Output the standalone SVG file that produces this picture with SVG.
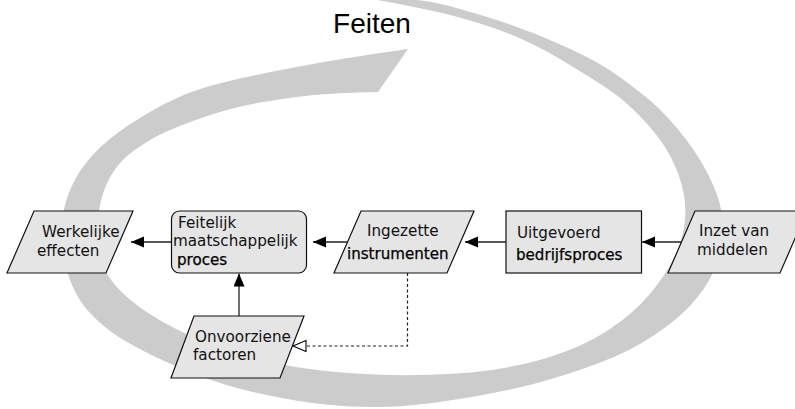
<svg xmlns="http://www.w3.org/2000/svg" width="795" height="409" viewBox="0 0 795 409">
  <style>
    .node { fill: #e5e5e5; stroke: #111; stroke-width: 1.2; }
    .lbl { font-family: "DejaVu Sans", "Liberation Sans", sans-serif; font-size: 15.2px; fill: #111; }
    .em { font-family: "DejaVu Sans", "Liberation Sans", sans-serif; font-size: 15.1px; fill: #000; stroke: #000; stroke-width: 0.25; }
    .edge { fill: none; stroke: #222; stroke-width: 1.3; }
    .dash { fill: none; stroke: #222; stroke-width: 1.2; stroke-dasharray: 3 2.5; }
  </style>
  <defs>
    <marker id="solid" markerUnits="userSpaceOnUse" markerWidth="14" markerHeight="12" refX="13" refY="5.5" orient="auto">
      <path d="M0,0 L13,5.5 L0,11 Z" fill="#000"/>
    </marker>
    <marker id="open" markerUnits="userSpaceOnUse" markerWidth="16" markerHeight="14" refX="14" refY="6.5" orient="auto">
      <path d="M1,1 L14,6.5 L1,12 Z" fill="#fff" stroke="#000" stroke-width="1.1"/>
    </marker>
  </defs>

  <rect width="795" height="409" fill="#fff"/>

  <!-- cycle swirl behind the flow -->
  <path id="swirl" fill="#cccccc" d="M372,-1 L396,-1 Q420,-1 441,4 Q462,9 495,19.5 Q528,30 561.5,45 Q595,60 612.5,72 Q630,84 646,97 Q662,110 678.5,130 Q695,150 705,168.5 Q715,187 719,201 Q723,215 723,230 Q723,245 717.5,261 Q712,277 704,288.5 Q696,300 687,309 Q678,318 666.5,326.5 Q655,335 642.5,342.5 Q630,350 615,356.5 Q600,363 582.5,369 Q565,375 542.5,381.5 Q520,388 488,394 Q456,400 428,403.5 Q400,407 375,407 Q350,407 325,404.5 Q300,402 264,394.5 Q228,387 197.5,375 Q167,363 144.5,351.5 Q122,340 110,331 Q98,322 89,312 Q80,302 74,289.5 Q68,277 64.5,261 Q61,245 62,226 Q63,207 69,192.5 Q75,178 82.5,167.5 Q90,157 100,147.5 Q110,138 121.5,130 Q133,122 149,112.5 Q165,103 182.5,95.5 Q200,88 225,82 Q250,76 283.5,69.5 Q317,63 342,59 Q367,55 387.5,52 L408,49 L378,92 L359,92.5 Q340,93 320,94.5 Q300,96 266.5,101.5 Q233,107 200,118.5 Q167,130 151,139.5 Q135,149 126,157 Q117,165 110.5,176.5 Q104,188 101,200.5 Q98,213 98,229 Q98,245 102,261 Q106,277 121.5,292 Q137,307 159.5,320 Q182,333 207.5,343 Q233,353 268.5,361.5 Q304,370 355,373.5 Q406,377 456.5,373.5 Q507,370 545,358.5 Q583,347 608.5,330 Q634,313 649,295 Q664,277 672.5,261 Q681,245 684,227.5 Q687,210 683.5,192.5 Q680,175 671,157.5 Q662,140 645,121.5 Q628,103 611.5,91.5 Q595,80 561.5,60 Q528,40 495,28.5 Q462,17 431,10.5 Q400,4 386,1.5 L372,-1 Z"/>

  <text x="372" y="33" text-anchor="middle" font-family="Liberation Sans, Arial, sans-serif" font-size="28" fill="#000">Feiten</text>

  <!-- connectors -->
  <g id="connectors">
    <line class="edge" x1="681" y1="242" x2="642" y2="242" marker-end="url(#solid)"/>
    <line class="edge" x1="506" y1="242" x2="465" y2="242" marker-end="url(#solid)"/>
    <line class="edge" x1="347" y1="242" x2="313" y2="242" marker-end="url(#solid)"/>
    <line class="edge" x1="171.5" y1="242" x2="131" y2="242" marker-end="url(#solid)"/>
    <line class="edge" x1="239" y1="316" x2="239" y2="273.5" marker-end="url(#solid)"/>
    <path class="dash" d="M407.5,273 L407.5,346 L293,346" marker-end="url(#open)"/>
  </g>

  <g id="werkelijke-effecten">
    <polygon class="node" points="34,211 133,211 106,273 7,273"/>
    <text class="lbl" x="42" y="237">Werkelijke</text>
    <text class="lbl" x="37" y="255.5">effecten</text>
  </g>

  <g id="feitelijk-proces">
    <rect class="node" x="171.5" y="211" width="135" height="62" rx="8"/>
    <text class="lbl" x="178" y="228">Feitelijk</text>
    <text class="lbl" x="173" y="246">maatschappelijk</text>
    <text class="em" x="177" y="265">proces</text>
  </g>

  <g id="ingezette-instrumenten">
    <polygon class="node" points="361,211 474,211 447,273 334,273"/>
    <text class="lbl" x="367" y="236">Ingezette</text>
    <text class="em" x="347" y="259">instrumenten</text>
  </g>

  <g id="uitgevoerd-bedrijfsproces">
    <rect class="node" x="506" y="211" width="135.5" height="62"/>
    <text class="lbl" x="517" y="238">Uitgevoerd</text>
    <text class="em" x="516" y="260">bedrijfsproces</text>
  </g>

  <g id="inzet-van-middelen">
    <polygon class="node" points="695,211 807,211 780,273 668,273"/>
    <text class="lbl" x="699" y="236">Inzet van</text>
    <text class="lbl" x="697" y="255">middelen</text>
  </g>

  <g id="onvoorziene-factoren">
    <polygon class="node" points="194,316 304,316 280,378 171,378"/>
    <text class="lbl" x="195" y="342">Onvoorziene</text>
    <text class="lbl" x="193" y="360">factoren</text>
  </g>
</svg>
